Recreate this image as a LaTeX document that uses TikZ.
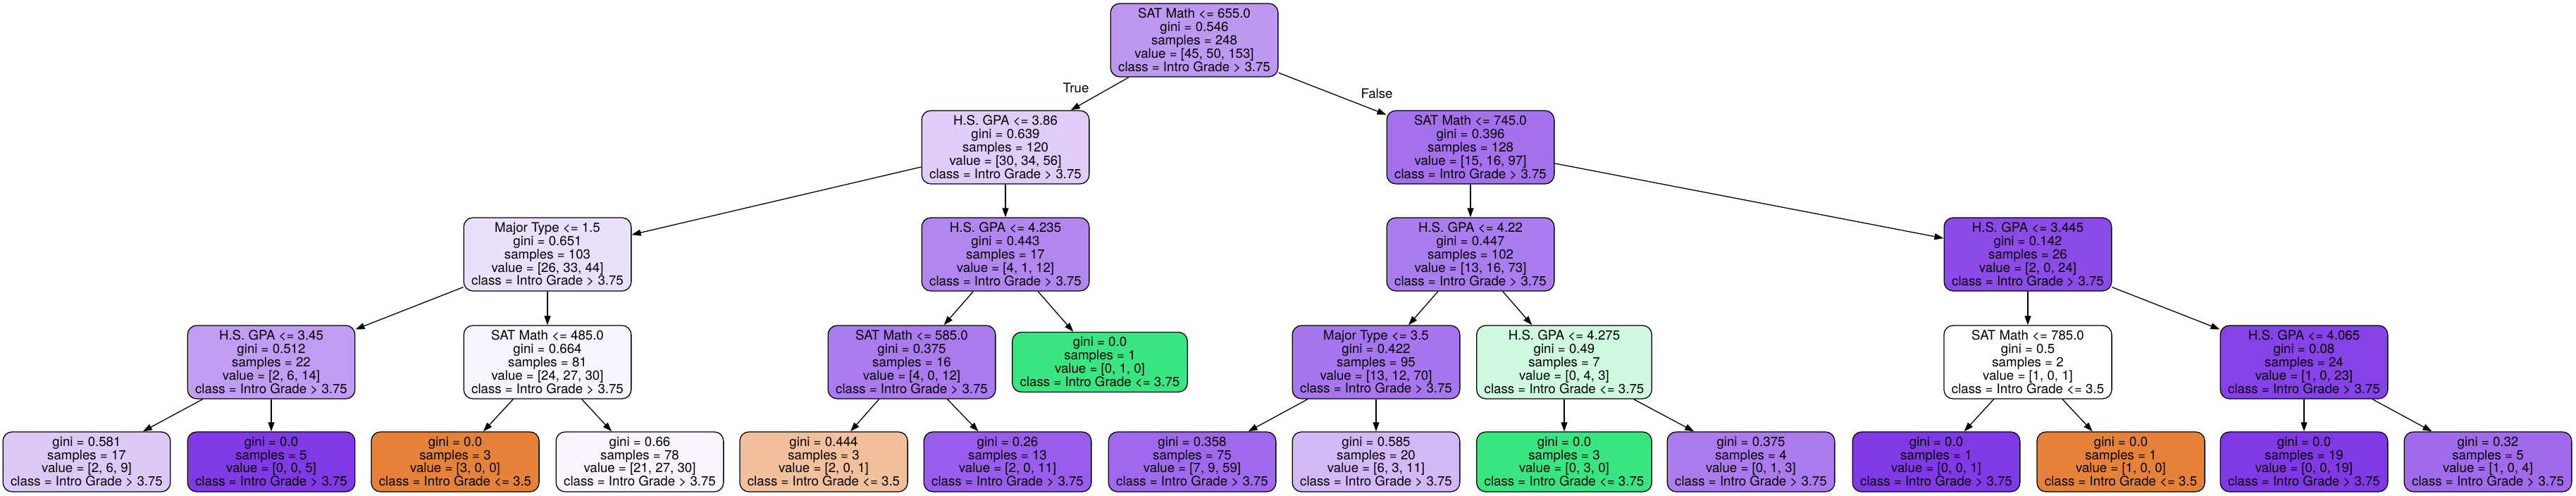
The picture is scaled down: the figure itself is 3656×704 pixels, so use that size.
\documentclass[tikz,border=0pt]{standalone}
\usepackage{fontspec}
\setmainfont{TeX Gyre Heros}
\usetikzlibrary{arrows.meta}
\definecolor{c0}{RGB}{189,152,241}
\definecolor{c1a}{RGB}{223,204,248}
\definecolor{c1b}{RGB}{164,112,236}
\definecolor{c2a}{RGB}{235,224,251}
\definecolor{c2b}{RGB}{178,133,239}
\definecolor{c2c}{RGB}{171,124,238}
\definecolor{c2d}{RGB}{140,74,231}
\definecolor{c3a}{RGB}{192,156,242}
\definecolor{c3b}{RGB}{248,244,254}
\definecolor{c3c}{RGB}{171,123,238}
\definecolor{cgreen}{RGB}{57,229,129}
\definecolor{c3e}{RGB}{167,117,237}
\definecolor{c3f}{RGB}{206,248,224}
\definecolor{c3h}{RGB}{134,66,230}
\definecolor{cpurple}{RGB}{129,57,229}
\definecolor{corange}{RGB}{229,129,57}
\definecolor{l1}{RGB}{221,201,248}
\definecolor{l4}{RGB}{248,243,253}
\definecolor{l5}{RGB}{242,192,156}
\definecolor{l6}{RGB}{152,93,234}
\definecolor{l7}{RGB}{160,105,235}
\definecolor{l8}{RGB}{210,184,246}
\definecolor{l14}{RGB}{160,106,235}
\begin{document}
\begin{tikzpicture}[x=1bp,y=-1bp,
  tn/.style={draw=black, line width=1.3bp, rounded corners=13bp, align=center,
    inner xsep=11bp, inner ysep=0pt, font=\fontsize{18.67bp}{18.9bp}\selectfont},
  split/.style={tn, minimum height=104bp, minimum width=235bp},
  leaf/.style={tn, minimum height=85bp, minimum width=235bp},
  edge/.style={line width=1.3bp, -{Triangle[length=13bp,width=9bp]}},
  elab/.style={font=\fontsize{18.67bp}{18.9bp}\selectfont, inner sep=0pt}]
\useasboundingbox[fill=white] (0,0) rectangle (3656,704);
% level 0
\node[split, fill=c0] (root) at (1695,57) {SAT Math <= 655.0\\gini = 0.546\\samples = 248\\value = [45, 50, 153]\\class = Intro Grade > 3.75};
% level 1
\node[split, fill=c1a] (n1) at (1427,209) {H.S. GPA <= 3.86\\gini = 0.639\\samples = 120\\value = [30, 34, 56]\\class = Intro Grade > 3.75};
\node[split, fill=c1b] (n2) at (2087,209) {SAT Math <= 745.0\\gini = 0.396\\samples = 128\\value = [15, 16, 97]\\class = Intro Grade > 3.75};
% level 2
\node[split, fill=c2a] (n3) at (777,361) {Major Type <= 1.5\\gini = 0.651\\samples = 103\\value = [26, 33, 44]\\class = Intro Grade > 3.75};
\node[split, fill=c2b] (n4) at (1427,361) {H.S. GPA <= 4.235\\gini = 0.443\\samples = 17\\value = [4, 1, 12]\\class = Intro Grade > 3.75};
\node[split, fill=c2c] (n5) at (2087,361) {H.S. GPA <= 4.22\\gini = 0.447\\samples = 102\\value = [13, 16, 73]\\class = Intro Grade > 3.75};
\node[split, fill=c2d] (n6) at (2878,361) {H.S. GPA <= 3.445\\gini = 0.142\\samples = 26\\value = [2, 0, 24]\\class = Intro Grade > 3.75};
% level 3
\node[split, fill=c3a] (n7) at (385,514) {H.S. GPA <= 3.45\\gini = 0.512\\samples = 22\\value = [2, 6, 14]\\class = Intro Grade > 3.75};
\node[split, fill=c3b] (n8) at (777,514) {SAT Math <= 485.0\\gini = 0.664\\samples = 81\\value = [24, 27, 30]\\class = Intro Grade > 3.75};
\node[split, fill=c3c] (n9) at (1294,514) {SAT Math <= 585.0\\gini = 0.375\\samples = 16\\value = [4, 0, 12]\\class = Intro Grade > 3.75};
\node[leaf, fill=cgreen] (n10) at (1561,514) {gini = 0.0\\samples = 1\\value = [0, 1, 0]\\class = Intro Grade <= 3.75};
\node[split, fill=c3e] (n11) at (1953,514) {Major Type <= 3.5\\gini = 0.422\\samples = 95\\value = [13, 12, 70]\\class = Intro Grade > 3.75};
\node[split, fill=c3f] (n12) at (2220,514) {H.S. GPA <= 4.275\\gini = 0.49\\samples = 7\\value = [0, 4, 3]\\class = Intro Grade <= 3.75};
\node[split, fill=white] (n13) at (2878,514) {SAT Math <= 785.0\\gini = 0.5\\samples = 2\\value = [1, 0, 1]\\class = Intro Grade <= 3.5};
\node[split, fill=c3h] (n14) at (3270,514) {H.S. GPA <= 4.065\\gini = 0.08\\samples = 24\\value = [1, 0, 23]\\class = Intro Grade > 3.75};
% level 4 leaves
\node[leaf, fill=l1] (f1) at (123,655.5) {gini = 0.581\\samples = 17\\value = [2, 6, 9]\\class = Intro Grade > 3.75};
\node[leaf, fill=cpurple] (f2) at (385,655.5) {gini = 0.0\\samples = 5\\value = [0, 0, 5]\\class = Intro Grade > 3.75};
\node[leaf, fill=corange] (f3) at (646,655.5) {gini = 0.0\\samples = 3\\value = [3, 0, 0]\\class = Intro Grade <= 3.5};
\node[leaf, fill=l4] (f4) at (908,655.5) {gini = 0.66\\samples = 78\\value = [21, 27, 30]\\class = Intro Grade > 3.75};
\node[leaf, fill=l5] (f5) at (1169,655.5) {gini = 0.444\\samples = 3\\value = [2, 0, 1]\\class = Intro Grade <= 3.5};
\node[leaf, fill=l6] (f6) at (1430,655.5) {gini = 0.26\\samples = 13\\value = [2, 0, 11]\\class = Intro Grade > 3.75};
\node[leaf, fill=l7] (f7) at (1692,655.5) {gini = 0.358\\samples = 75\\value = [7, 9, 59]\\class = Intro Grade > 3.75};
\node[leaf, fill=l8] (f8) at (1953,655.5) {gini = 0.585\\samples = 20\\value = [6, 3, 11]\\class = Intro Grade > 3.75};
\node[leaf, fill=cgreen] (f9) at (2220,655.5) {gini = 0.0\\samples = 3\\value = [0, 3, 0]\\class = Intro Grade <= 3.75};
\node[leaf, fill=c3c] (f10) at (2485,655.5) {gini = 0.375\\samples = 4\\value = [0, 1, 3]\\class = Intro Grade > 3.75};
\node[leaf, fill=cpurple] (f11) at (2748,655.5) {gini = 0.0\\samples = 1\\value = [0, 0, 1]\\class = Intro Grade > 3.75};
\node[leaf, fill=corange] (f12) at (3010,655.5) {gini = 0.0\\samples = 1\\value = [1, 0, 0]\\class = Intro Grade <= 3.5};
\node[leaf, fill=cpurple] (f13) at (3270,655.5) {gini = 0.0\\samples = 19\\value = [0, 0, 19]\\class = Intro Grade > 3.75};
\node[leaf, fill=l14] (f14) at (3531,655.5) {gini = 0.32\\samples = 5\\value = [1, 0, 4]\\class = Intro Grade > 3.75};
% edges
\draw[edge] (root) -- (n1);
\draw[edge] (root) -- (n2);
\draw[edge] (n1) -- (n3);
\draw[edge] (n1) -- (n4);
\draw[edge] (n2) -- (n5);
\draw[edge] (n2) -- (n6);
\draw[edge] (n3) -- (n7);
\draw[edge] (n3) -- (n8);
\draw[edge] (n4) -- (n9);
\draw[edge] (n4) -- (n10);
\draw[edge] (n5) -- (n11);
\draw[edge] (n5) -- (n12);
\draw[edge] (n6) -- (n13);
\draw[edge] (n6) -- (n14);
\draw[edge] (n7) -- (f1);
\draw[edge] (n7) -- (f2);
\draw[edge] (n8) -- (f3);
\draw[edge] (n8) -- (f4);
\draw[edge] (n9) -- (f5);
\draw[edge] (n9) -- (f6);
\draw[edge] (n11) -- (f7);
\draw[edge] (n11) -- (f8);
\draw[edge] (n12) -- (f9);
\draw[edge] (n12) -- (f10);
\draw[edge] (n13) -- (f11);
\draw[edge] (n13) -- (f12);
\draw[edge] (n14) -- (f13);
\draw[edge] (n14) -- (f14);
% edge labels
\node[elab] (ltrue) at (1527,125) {True};
\node[elab] (lfalse) at (1954,133) {False};
\end{tikzpicture}
\end{document}
